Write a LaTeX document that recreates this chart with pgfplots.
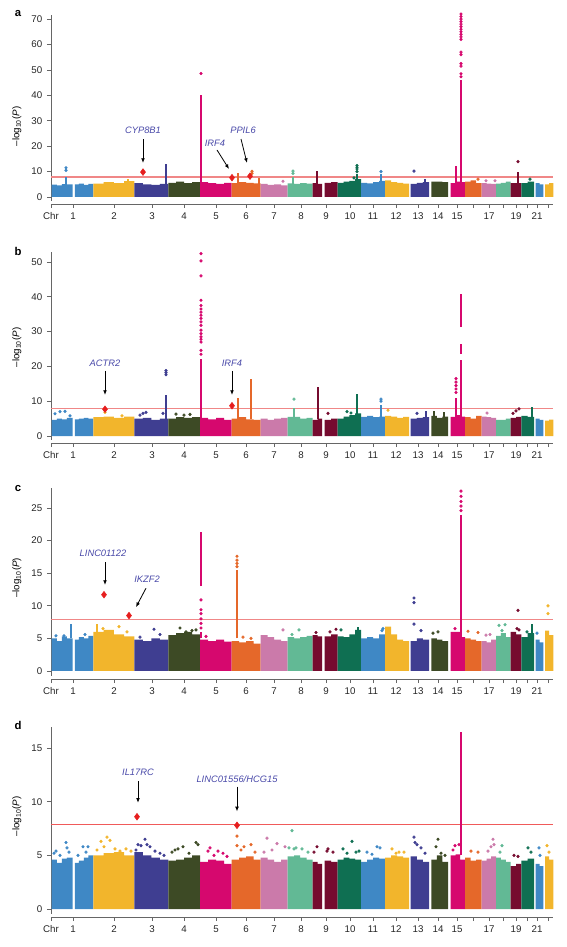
\documentclass[border=0pt]{standalone}
\usepackage{pgfplots}
\pgfplotsset{compat=1.18}
\usepackage{fontspec}
\setmainfont{Liberation Sans}
\usetikzlibrary{arrows.meta}
\definecolor{cA}{RGB}{63,136,197}
\definecolor{cB}{RGB}{242,181,44}
\definecolor{cC}{RGB}{63,62,145}
\definecolor{cD}{RGB}{61,74,37}
\definecolor{cE}{RGB}{214,8,110}
\definecolor{cF}{RGB}{229,104,42}
\definecolor{cG}{RGB}{203,122,170}
\definecolor{cH}{RGB}{98,185,149}
\definecolor{cI}{RGB}{118,11,47}
\definecolor{cJ}{RGB}{15,111,82}
\definecolor{geneC}{RGB}{72,72,168}
\definecolor{dia}{RGB}{230,30,30}
\definecolor{thrA}{RGB}{240,135,135}
\definecolor{thrD}{RGB}{240,90,90}
\newcommand{\blk}[2]{\addplot[const plot, fill=#1, draw=none] coordinates {#2};}
\newcommand{\pts}[2]{\addplot[only marks, mark=*, mark size=1pt, color=#1] coordinates {#2};}
\newcommand{\col}[2]{\addplot[color=#1, line width=2.2pt] coordinates {#2};}
\newcommand{\dia}[1]{\addplot[only marks, mark=diamond*, mark size=2.5pt, color=dia] coordinates {#1};}
\newcommand{\gene}[2]{\node[font=\itshape\fontsize{7}{8}\selectfont, text=geneC] at (axis cs:#1) {#2};}
\newcommand{\arr}[2]{\draw[-{Latex[length=3.5pt,width=2.8pt]}, line width=0.6pt] (axis cs:#1) -- (axis cs:#2);}
\pgfplotsset{
  mh/.style={
    scale only axis, width=376.5pt, xmin=51, xmax=553,
    anchor=north west,
    axis x line*=bottom, axis y line*=left,
    tick align=outside, major tick length=3pt,
    xtick={51,73,114,152,184,216,246,274,301,326,350,373,396,418,438,457,473,489,503,516,527,537,548},
    xticklabels={Chr,1,2,3,4,5,6,7,8,9,10,11,12,13,14,15,,17,,19,,21,},
    ticklabel style={font=\fontsize{7.3}{8}\selectfont, text=black!85},
    /pgf/number format/assume math mode=true,
    axis line style={black!60, line width=0.6pt},
    tick style={black!60, line width=0.6pt},
    y axis line style={shorten <=2.5pt},
    clip=false,
    ylabel={\fontsize{7.3}{8}\selectfont --log\textsubscript{10}(\textit{P})},
  }
}
\begin{document}
\begin{tikzpicture}
\path[use as bounding box] (0,0) rectangle (425.25pt,-710.25pt);
\node[font=\bfseries\fontsize{8.5}{10}\selectfont] at (13.5pt,-10.5pt) {a};
\node[font=\bfseries\fontsize{8.5}{10}\selectfont] at (13.5pt,-188.25pt) {b};
\node[font=\bfseries\fontsize{8.5}{10}\selectfont] at (13.5pt,-366pt) {c};
\node[font=\bfseries\fontsize{8.5}{10}\selectfont] at (13.5pt,-543.75pt) {d};

% ---------------- panel a ----------------
\begin{axis}[mh, at={(38.25pt,-11.25pt)}, height=141.75pt, ymin=-2.76, ymax=71.6,
  ytick={0,10,20,30,40,50,60,70},
  ylabel style={at={(axis description cs:-0.068,0.41)}, anchor=center}]
\addplot[thrA, line width=1.2pt] coordinates {(51,7.9)(553,7.9)};
\blk{cA}{(51.7,0)(51.7,4.9)(57,4.6)(62,5.1)(67,5.0)(72.7,0)}
\blk{cA}{(75,0)(75,5.0)(79,5.3)(84,4.8)(88.5,5.2)(93.3,0)}
\blk{cB}{(93.3,0)(93.3,5.3)(103.5,5.8)(113.8,5.5)(124,6.2)(134.3,0)}
\blk{cC}{(134.3,0)(134.3,5.5)(142.8,5.0)(151.3,4.8)(159.8,5.2)(168.3,0)}
\blk{cD}{(168.3,0)(168.3,5.6)(176.2,6.0)(184.2,5.5)(192.1,5.8)(200,0)}
\blk{cE}{(200,0)(200,5.8)(208,5.5)(216,5.2)(224,5.6)(231.7,0)}
\blk{cF}{(231.7,0)(231.7,5.5)(239,5.8)(246.2,5.6)(253.5,5.4)(260.7,0)}
\blk{cG}{(260.7,0)(260.7,5.2)(267.5,4.8)(274.2,5.0)(281,4.6)(287.7,0)}
\blk{cH}{(287.7,0)(287.7,5.4)(294,5.2)(300,5.5)(306.5,5.3)(312.7,0)}
\blk{cI}{(312.7,0)(312.7,5.5)(317.5,5.2)(322,0)}
\blk{cI}{(324.7,0)(324.7,5.6)(331,5.8)(337.7,0)}
\blk{cJ}{(337.7,0)(337.7,5.6)(343.5,6.0)(349.3,6.3)(355.2,7.0)(361,0)}
\blk{cA}{(361,0)(361,5.6)(367,5.4)(373,5.8)(379,6.3)(385,0)}
\blk{cB}{(385,0)(385,6.5)(391,5.8)(397,5.6)(403,5.3)(409,0)}
\blk{cC}{(410.7,0)(410.7,5.2)(416.8,5.6)(422.9,5.8)(429,0)}
\blk{cD}{(431.3,0)(431.3,6.0)(436.9,6.0)(442.4,5.8)(448,0)}
\blk{cE}{(450.7,0)(450.7,5.5)(455.5,6.0)(460.2,5.8)(465,0)}
\blk{cF}{(465,0)(465,6.0)(470.6,6.5)(476.1,5.5)(481.7,0)}
\blk{cG}{(481.7,0)(481.7,5.5)(486.5,5.3)(491.2,5.2)(496,0)}
\blk{cH}{(496,0)(496,5.3)(500.9,5.6)(505.8,6.0)(510.7,0)}
\blk{cI}{(510.7,0)(510.7,5.5)(516,5.5)(521.3,0)}
\blk{cJ}{(521.3,0)(521.3,5.5)(527.6,6.0)(534,0)}
\blk{cA}{(535.7,0)(535.7,5.5)(539.5,5.0)(543.3,0)}
\blk{cB}{(545,0)(545,5.0)(549.1,5.5)(553.3,0)}
\col{cA}{(66,5)(66,7.7)}
\pts{cA}{(66,10.5)(66,11.5)}
\col{cB}{(128,5)(128,7.2)}
\col{cC}{(166,5)(166,12.8)}
\col{cE}{(201,5)(201,40.2)}
\pts{cE}{(201,48.6)}
\col{cF}{(238,5)(238,9.3)}
\col{cF}{(259,5)(259,7.6)}
\pts{cF}{(252,10.1)(252,9.3)}
\pts{cG}{(283,6.2)}
\col{cH}{(293,5)(293,8)}
\pts{cH}{(293,9.3)(293,10.2)}
\col{cI}{(317,5)(317,10.2)}
\col{cJ}{(357,7)(357,9)}
\pts{cJ}{(357,10)(357,11)(357,11.7)(357,12.4)(354,7.5)}
\col{cA}{(381,5)(381,9)}
\pts{cA}{(381,10)}
\pts{cC}{(414,10.2)}
\col{cC}{(425,5)(425,7.2)}
\col{cE}{(456,5)(456,12.3)}
\col{cE}{(461,5)(461,46)}
\pts{cE}{(461,72)(461,71)(461,70)(461,69)(461,68)(461,67)(461,66)(461,65)(461,64)(461,63)(461,62)(461,57)(461,56)(461,52.5)(461,51.5)(461,48.5)(461,47.3)}
\pts{cF}{(478,7.0)}
\pts{cG}{(486,6.4)(495,6.4)}
\col{cI}{(518,5)(518,10)}
\pts{cI}{(518,13.9)}
\pts{cJ}{(530,7)}
\dia{(143,9.8)(232,7.6)(250,8.2)}
\gene{143,26.3}{CYP8B1}
\arr{143,22.8}{143,13.4}
\gene{215,21.2}{IRF4}
\arr{217,18.5}{229,11.0}
\gene{243,26.3}{PPIL6}
\arr{241,22.8}{247,13.4}
\end{axis}

% ---------------- panel b ----------------
\begin{axis}[mh, at={(38.25pt,-189pt)}, height=143.25pt, ymin=-2.01, ymax=52.87,
  ytick={0,10,20,30,40,50},
  ylabel style={at={(axis description cs:-0.068,0.50)}, anchor=center}]
\addplot[thrA, line width=1.2pt] coordinates {(51,7.9)(553,7.9)};
\blk{cA}{(51.7,0)(51.7,4.6)(57,5.0)(62,4.8)(67,5.2)(72.7,0)}
\blk{cA}{(75,0)(75,4.8)(79,5.0)(84,5.2)(88.5,5.0)(93.3,0)}
\blk{cB}{(93.3,0)(93.3,5.4)(103.5,5.6)(113.8,5.2)(124,5.6)(134.3,0)}
\blk{cC}{(134.3,0)(134.3,5.0)(142.8,5.2)(151.3,4.6)(159.8,5.0)(168.3,0)}
\blk{cD}{(168.3,0)(168.3,5.0)(176.2,5.4)(184.2,5.2)(192.1,5.4)(200,0)}
\blk{cE}{(200,0)(200,5.2)(208,4.8)(216,5.2)(224,4.6)(231.7,0)}
\blk{cF}{(231.7,0)(231.7,5.0)(239,5.4)(246.2,4.8)(253.5,4.6)(260.7,0)}
\blk{cG}{(260.7,0)(260.7,5.0)(267.5,4.6)(274.2,5.0)(281,5.2)(287.7,0)}
\blk{cH}{(287.7,0)(287.7,5.5)(294,5.5)(300,5.0)(306.5,5.2)(312.7,0)}
\blk{cI}{(312.7,0)(312.7,4.6)(317.5,5.0)(322,0)}
\blk{cI}{(324.7,0)(324.7,4.6)(331,5.0)(337.7,0)}
\blk{cJ}{(337.7,0)(337.7,5.0)(343.5,5.6)(349.3,6.0)(355.2,6.5)(361,0)}
\blk{cA}{(361,0)(361,5.5)(367,5.8)(373,5.4)(379,5.6)(385,0)}
\blk{cB}{(385,0)(385,5.8)(391,5.6)(397,5.2)(403,5.5)(409,0)}
\blk{cC}{(410.7,0)(410.7,5.0)(416.8,5.2)(422.9,5.4)(429,0)}
\blk{cD}{(431.3,0)(431.3,5.8)(436.9,5.2)(442.4,5.6)(448,0)}
\blk{cE}{(450.7,0)(450.7,5.5)(455.5,6.0)(460.2,5.6)(465,0)}
\blk{cF}{(465,0)(465,5.4)(470.6,5.0)(476.1,5.8)(481.7,0)}
\blk{cG}{(481.7,0)(481.7,5.6)(486.5,5.4)(491.2,5.2)(496,0)}
\blk{cH}{(496,0)(496,4.6)(500.9,4.6)(505.8,5.0)(510.7,0)}
\blk{cI}{(510.7,0)(510.7,5.2)(516,5.5)(521.3,0)}
\blk{cJ}{(521.3,0)(521.3,5.8)(527.6,5.5)(534,0)}
\blk{cA}{(535.7,0)(535.7,5.0)(539.5,4.6)(543.3,0)}
\blk{cB}{(545,0)(545,4.4)(549.1,4.7)(553.3,0)}
\pts{cA}{(55,6.4)(60,7.0)(65,7.1)(70,5.8)}
\pts{cB}{(105,6.8)(122,5.8)}
\pts{cC}{(140,6.0)(143,6.5)(146,6.8)(163,6.5)}
\col{cC}{(166,5)(166,11.8)}
\pts{cC}{(166,17.6)(166,18.2)(166,18.8)}
\pts{cD}{(176,6.3)(184,6.0)(190,6.2)}
\col{cE}{(201,5)(201,22.2)}
\pts{cE}{(201,52.4)(201,50.3)(201,46)(201,39)(201,37.5)(201,36.5)(201,35.6)(201,34.7)(201,33.8)(201,32.8)(201,31.8)(201,30.4)(201,29.4)(201,28.5)(201,27.8)(201,27)(201,24.6)(201,23.5)}
\col{cF}{(238,5)(238,11)}
\col{cF}{(251,5)(251,16.5)}
\col{cH}{(294,5)(294,8)}
\pts{cH}{(294,10.6)}
\col{cI}{(318,5)(318,14.2)}
\pts{cI}{(328,6.5)}
\col{cJ}{(357,5)(357,12.1)}
\pts{cJ}{(347,7.0)(351,6.6)}
\col{cA}{(381,5)(381,9)}
\pts{cA}{(381,10.0)(381,10.6)}
\pts{cB}{(388,7.4)}
\col{cC}{(426,5)(426,7.2)}
\pts{cC}{(417,6.5)}
\col{cD}{(434,5)(434,7.3)}
\col{cD}{(444,5)(444,7.0)}
\col{cE}{(456,5)(456,11)}
\pts{cE}{(456,12.5)(456,13.5)(456,14.5)(456,15.5)(456,16.5)}
\col{cE}{(461,5)(461,21.7)}
\col{cE}{(461,23.7)(461,26.5)}
\col{cE}{(461,31.3)(461,40.9)}
\pts{cG}{(487,6.6)}
\pts{cI}{(513,6.5)(516,7.2)(519,7.8)}
\col{cJ}{(532,5)(532,8.4)}
\dia{(105,7.7)(232,8.7)}
\gene{105,21.0}{ACTR2}
\arr{105,18.7}{105,11.8}
\gene{232,21.0}{IRF4}
\arr{232,18.7}{232,11.8}
\end{axis}

% ---------------- panel c ----------------
\begin{axis}[mh, at={(38.25pt,-366pt)}, height=143.25pt, ymin=-1.23, ymax=28.07,
  ytick={0,5,10,15,20,25},
  ylabel style={at={(axis description cs:-0.068,0.53)}, anchor=center}]
\addplot[thrA, line width=1.2pt] coordinates {(51,7.9)(553,7.9)};
\blk{cA}{(51.7,0)(51.7,5.0)(57,4.6)(62,5.3)(67,5.0)(72.7,0)}
\blk{cA}{(75,0)(75,4.8)(79,5.2)(84,5.0)(88.5,5.4)(93.3,0)}
\blk{cB}{(93.3,0)(93.3,6.0)(103.5,6.3)(113.8,5.6)(124,5.3)(134.3,0)}
\blk{cC}{(134.3,0)(134.3,4.8)(142.8,4.6)(151.3,5.0)(159.8,4.8)(168.3,0)}
\blk{cD}{(168.3,0)(168.3,5.5)(176.2,5.8)(184.2,6.0)(192.1,5.6)(200,0)}
\blk{cE}{(200,0)(200,4.8)(208,4.6)(216,4.8)(224,4.5)(231.7,0)}
\blk{cF}{(231.7,0)(231.7,4.6)(239,4.4)(246.2,4.6)(253.5,4.2)(260.7,0)}
\blk{cG}{(260.7,0)(260.7,5.5)(267.5,5.2)(274.2,4.8)(281,4.6)(287.7,0)}
\blk{cH}{(287.7,0)(287.7,5.2)(294,5.0)(300,5.2)(306.5,5.4)(312.7,0)}
\blk{cI}{(312.7,0)(312.7,5.5)(317.5,5.3)(322,0)}
\blk{cI}{(324.7,0)(324.7,5.3)(331,5.6)(337.7,0)}
\blk{cJ}{(337.7,0)(337.7,5.3)(343.5,5.2)(349.3,5.6)(355.2,6.3)(361,0)}
\blk{cA}{(361,0)(361,5.0)(367,5.2)(373,5.0)(379,5.6)(385,0)}
\blk{cB}{(385,0)(385,6.8)(391,5.6)(397,4.8)(403,4.6)(409,0)}
\blk{cC}{(410.7,0)(410.7,4.6)(416.8,5.0)(422.9,4.8)(429,0)}
\blk{cD}{(431.3,0)(431.3,5.0)(436.9,4.8)(442.4,4.6)(448,0)}
\blk{cE}{(450.7,0)(450.7,6.0)(455.5,6.0)(460.2,5.2)(465,0)}
\blk{cF}{(465,0)(465,5.0)(470.6,4.8)(476.1,4.6)(481.7,0)}
\blk{cG}{(481.7,0)(481.7,4.6)(486.5,4.4)(491.2,4.8)(496,0)}
\blk{cH}{(496,0)(496,5.4)(500.9,5.8)(505.8,5.2)(510.7,0)}
\blk{cI}{(510.7,0)(510.7,6.0)(516,5.6)(521.3,0)}
\blk{cJ}{(521.3,0)(521.3,5.2)(527.6,5.8)(534,0)}
\blk{cA}{(535.7,0)(535.7,4.8)(539.5,4.4)(543.3,0)}
\blk{cB}{(545,0)(545,6.2)(549.1,5.5)(553.3,0)}
\col{cA}{(71,5)(71,7.2)}
\pts{cA}{(56,5.4)(64,5.4)(85,5.6)}
\col{cB}{(97,5)(97,7.2)}
\pts{cB}{(103,6.5)(112,6.0)(119,6.8)(127,6.0)}
\pts{cC}{(140,5.2)(154,6.4)(160,5.6)}
\pts{cD}{(180,6.6)(186,6.0)(192,6.2)(196,6.3)}
\col{cE}{(201,5)(201,6)}
\col{cE}{(201,13)(201,21.3)}
\pts{cE}{(201,10.9)(201,9.4)(201,8.8)(201,8.0)(201,7.3)(201,6.6)(206,5.3)}
\col{cF}{(237,5)(237,15.5)}
\pts{cF}{(237,16.0)(237,16.5)(237,17.0)(237,17.6)(243,5.2)(251,5.0)}
\pts{cG}{(283,6.3)}
\pts{cH}{(299,6.3)(292,5.6)}
\pts{cI}{(316,5.9)(336,6.4)(330,6.0)}
\col{cJ}{(358,5)(358,6.7)}
\pts{cJ}{(341,6.3)}
\pts{cA}{(383,6.5)(382,6.2)}
\pts{cC}{(414,11.2)(414,10.5)(414,7.2)(421,6.2)}
\pts{cD}{(433,5.8)(438,6.0)}
\col{cE}{(461,5)(461,24)}
\pts{cE}{(461,24.6)(461,25.3)(461,26.0)(461,26.8)(461,27.6)(455,6.5)}
\pts{cF}{(468,6.1)(478,5.9)}
\pts{cG}{(486,5.5)(490,5.6)}
\pts{cH}{(499,7.0)(505,7.1)(502,6.2)}
\pts{cI}{(518,9.3)(517,6.5)(519,6.3)}
\col{cJ}{(532,5)(532,7.2)}
\pts{cJ}{(527,6.0)}
\pts{cA}{(537,5.8)}
\pts{cB}{(548,10.0)(548,8.8)}
\dia{(104,11.7)(129,8.5)}
\gene{103,18.1}{LINC01122}
\arr{105,16.7}{105,13.2}
\gene{147,14.0}{IKZF2}
\arr{146,12.7}{136,9.8}
\end{axis}

% ---------------- panel d ----------------
\begin{axis}[mh, at={(38.25pt,-545.25pt)}, height=142.5pt, ymin=-0.745, ymax=16.96,
  ytick={0,5,10,15},
  ylabel style={at={(axis description cs:-0.068,0.53)}, anchor=center}]
\addplot[thrD, line width=0.7pt] coordinates {(51,7.9)(553,7.9)};
\blk{cA}{(51.7,0)(51.7,4.6)(57,4.3)(62,4.7)(67,4.8)(72.7,0)}
\blk{cA}{(75,0)(75,4.3)(79,4.5)(84,4.8)(88.5,5.0)(93.3,0)}
\blk{cB}{(93.3,0)(93.3,5.0)(103.5,5.2)(113.8,5.3)(124,5.0)(134.3,0)}
\blk{cC}{(134.3,0)(134.3,5.3)(142.8,5.0)(151.3,4.8)(159.8,4.6)(168.3,0)}
\blk{cD}{(168.3,0)(168.3,4.5)(176.2,4.6)(184.2,4.8)(192.1,5.0)(200,0)}
\blk{cE}{(200,0)(200,4.4)(208,4.6)(216,4.5)(224,4.2)(231.7,0)}
\blk{cF}{(231.7,0)(231.7,4.6)(239,4.8)(246.2,4.9)(253.5,4.6)(260.7,0)}
\blk{cG}{(260.7,0)(260.7,4.8)(267.5,4.6)(274.2,4.4)(281,4.6)(287.7,0)}
\blk{cH}{(287.7,0)(287.7,4.9)(294,5.0)(300,4.8)(306.5,4.6)(312.7,0)}
\blk{cI}{(312.7,0)(312.7,4.4)(317.5,4.2)(322,0)}
\blk{cI}{(324.7,0)(324.7,4.5)(331,4.4)(337.7,0)}
\blk{cJ}{(337.7,0)(337.7,4.6)(343.5,4.8)(349.3,4.7)(355.2,4.6)(361,0)}
\blk{cA}{(361,0)(361,4.4)(367,4.6)(373,4.8)(379,4.7)(385,0)}
\blk{cB}{(385,0)(385,4.8)(391,5.0)(397,4.9)(403,4.8)(409,0)}
\blk{cC}{(410.7,0)(410.7,4.9)(416.8,4.6)(422.9,4.4)(429,0)}
\blk{cD}{(431.3,0)(431.3,4.6)(436.9,5.0)(442.4,4.4)(448,0)}
\blk{cE}{(450.7,0)(450.7,5.0)(455.5,5.1)(460.2,4.6)(465,0)}
\blk{cF}{(465,0)(465,4.8)(470.6,4.5)(476.1,4.6)(481.7,0)}
\blk{cG}{(481.7,0)(481.7,4.5)(486.5,4.7)(491.2,4.9)(496,0)}
\blk{cH}{(496,0)(496,4.8)(500.9,4.6)(505.8,4.4)(510.7,0)}
\blk{cI}{(510.7,0)(510.7,4.0)(516,4.2)(521.3,0)}
\blk{cJ}{(521.3,0)(521.3,4.5)(527.6,4.7)(534,0)}
\blk{cA}{(535.7,0)(535.7,4.2)(539.5,4.0)(543.3,0)}
\blk{cB}{(545,0)(545,4.9)(549.1,4.6)(553.3,0)}
\pts{cA}{(54,5.2)(56,5.4)(60,5.0)(66,6.2)(67,5.7)(69,5.3)(78,5.0)(83,5.8)(88,5.8)(86,5.3)}
\pts{cB}{(97,5.5)(101,6.3)(104,5.8)(107,6.7)(110,6.4)(115,5.6)(120,5.4)(126,5.6)(131,5.4)}
\pts{cC}{(136,5.5)(138,6.0)(141,5.9)(145,6.5)(147,6.0)(150,5.8)(155,5.4)(160,5.2)(164,5.0)}
\pts{cD}{(172,5.3)(175,5.5)(178,5.6)(183,5.8)(189,5.2)(196,6.2)(198,6.0)}
\pts{cE}{(208,5.4)(210,5.7)(214,5.0)(218,5.4)(223,5.2)(227,4.9)}
\pts{cF}{(237,6.8)(237,5.9)(241,5.5)(244,5.8)(251,6.0)(255,5.3)}
\pts{cG}{(264,5.3)(267,6.6)(272,5.5)(277,6.1)(285,5.8)}
\pts{cH}{(292,7.3)(289,5.7)(294,5.6)(296,5.7)(302,5.6)(308,5.3)}
\pts{cI}{(314,5.3)(317,5.8)(327,5.4)(328,5.6)(333,5.3)}
\pts{cJ}{(343,5.6)(347,5.2)(352,6.3)(356,5.3)(359,5.4)}
\pts{cA}{(367,5.3)(372,5.1)(377,5.8)(380,5.7)}
\pts{cB}{(392,5.6)(396,5.2)(399,5.3)(404,5.3)}
\pts{cC}{(414,6.7)(415,6.2)(417,6.0)(421,5.7)(425,5.2)}
\pts{cD}{(438,6.5)(436,5.8)(441,5.2)(445,5.0)}
\col{cE}{(461,5)(461,16.5)}
\pts{cE}{(455,5.9)(459,6.0)(453,5.5)}
\pts{cF}{(471,5.4)(478,5.3)}
\pts{cG}{(488,5.4)(491,5.8)(493,6.5)(494,6.0)}
\pts{cH}{(502,5.9)(500,5.3)}
\pts{cI}{(514,5.0)(518,4.9)}
\pts{cJ}{(528,5.7)(531,5.3)}
\pts{cA}{(539,5.7)(540,5.0)}
\pts{cB}{(547,5.9)(549,5.3)}
\dia{(137,8.6)(237,7.8)}
\gene{138,12.7}{IL17RC}
\arr{138,11.9}{138,9.9}
\gene{237,12.1}{LINC01556/HCG15}
\arr{237,11.4}{237,9.1}
\end{axis}
\end{tikzpicture}
\end{document}
